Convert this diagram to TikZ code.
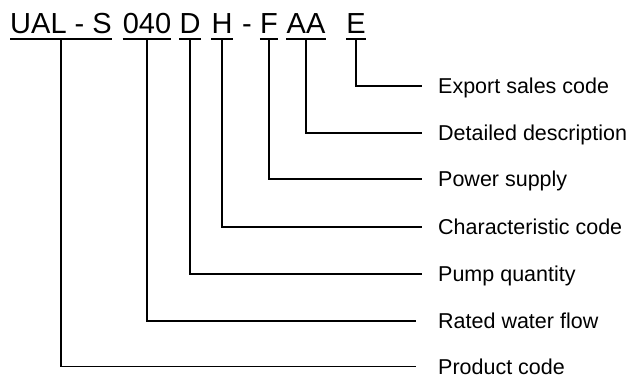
\documentclass[tikz,border=0pt]{standalone}
\usepackage{fontspec}
\setmainfont{Liberation Sans}
\begin{document}
\begin{tikzpicture}[x=1pt,y=-1pt,
  codepart/.style={anchor=base,inner sep=0pt,font=\fontsize{29}{32}\selectfont},
  lbl/.style={anchor=west,inner xsep=16pt,inner ysep=0pt,text height=15.4pt,text depth=0pt,font=\fontsize{21.5}{24}\selectfont},
  wire/.style={line width=1.1pt},
  uline/.style={line width=1.1pt}]
\useasboundingbox (0,0) rectangle (632,378);
\coordinate (ul) at (0,39);
% code parts
\node[codepart] (cP) at (61,33) {UAL - S};
\node[codepart] (cR) at (147,33) {040};
\node[codepart] (cQ) at (190,33) {D};
\node[codepart] (cC) at (222,33) {H};
\node[codepart] (cH) at (247,33) {-};
\node[codepart] (cS) at (269,33) {F};
\node[codepart] (cD) at (306,33) {AA};
\node[codepart] (cE) at (356,33) {E};
% underlines
\foreach \n in {cP,cR,cQ,cC,cS,cD,cE}
  \draw[uline] (\n.west |- ul) -- (\n.east |- ul);
% labels
\node[lbl] (lE) at (422,86) {Export sales code};
\node[lbl] (lD) at (422,133) {Detailed description};
\node[lbl] (lS) at (422,179) {Power supply};
\node[lbl] (lC) at (422,227) {Characteristic code};
\node[lbl] (lQ) at (422,274) {Pump quantity};
\node[lbl,inner xsep=22pt] (lR) at (416,321) {Rated water flow};
\node[lbl,inner xsep=22pt] (lP) at (416,366.5) {Product code};
% connectors
\draw[wire] (cE.center |- ul) |- (lE.west);
\draw[wire] (cD.center |- ul) |- (lD.west);
\draw[wire] (cS.center |- ul) |- (lS.west);
\draw[wire] (cC.center |- ul) |- (lC.west);
\draw[wire] (cQ.center |- ul) |- (lQ.west);
\draw[wire] (cR.center |- ul) |- (lR.west);
\draw[wire] (cP.center |- ul) |- (lP.west);
\end{tikzpicture}
\end{document}
